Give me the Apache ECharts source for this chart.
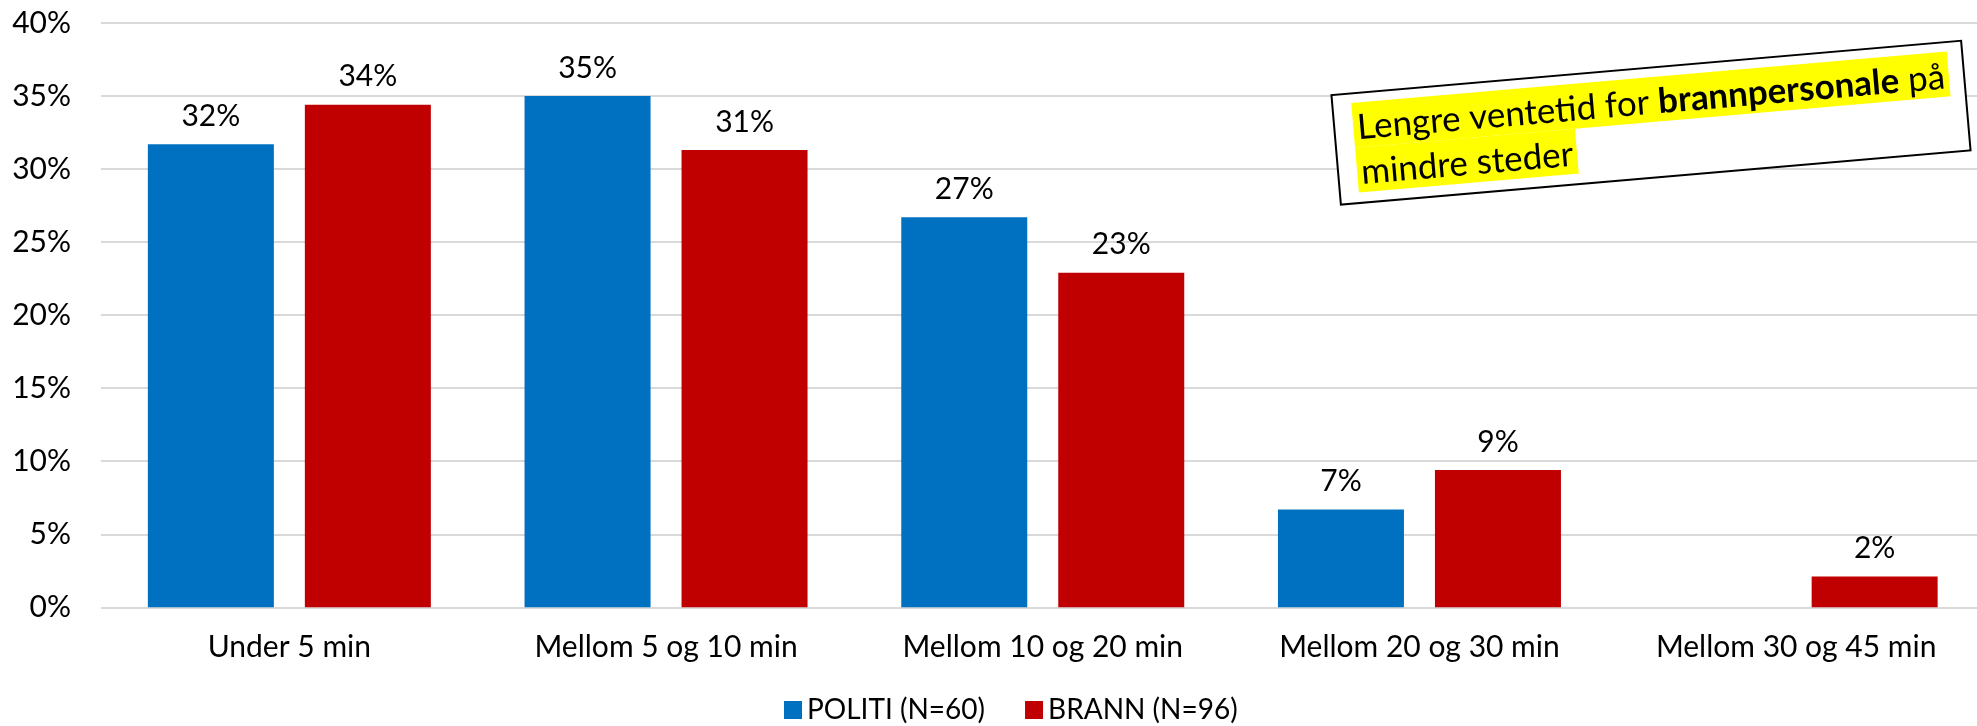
<!DOCTYPE html>
<html>
<head>
<meta charset="utf-8">
<script src="https://cdn.jsdelivr.net/npm/echarts@6/dist/echarts.min.js"></script>
<style>
html,body{margin:0;padding:0;background:#fff;}
#chart{width:1977px;height:726px;}
</style>
</head>
<body>
<div id="chart"></div>
<script>
const categories = ['Under 5 min', 'Mellom 5 og 10 min', 'Mellom 10 og 20 min', 'Mellom 20 og 30 min', 'Mellom 30 og 45 min'];
const politi = [31.7, 35.0, 26.7, 6.7, null];
const brann = [34.4, 31.3, 22.9, 9.4, 2.1];
const seriesNames = ['POLITI (N=60)', 'BRANN (N=96)'];
const yTicks = [0, 5, 10, 15, 20, 25, 30, 35, 40];
const noteLine1 = ['Lengre ventetid for ', 'brannpersonale', ' på'];
const noteLine2 = 'mindre steder';

const FONT = 'Lato';
const FS = 30;
const chart = echarts.init(document.getElementById('chart'), null, {renderer: 'canvas'});

const labelCfg = {
  show: true,
  position: 'top',
  distance: 13,
  fontFamily: FONT,
  fontSize: FS,
  color: '#000',
  formatter: p => (p.value == null ? '' : Math.round(p.value) + '%')
};

// annotation box geometry
const boxW = 632, boxH = 110;
const noteFS = 35, noteLH = 45, padL = 19, padT = 9.5;
const ctx = document.createElement('canvas').getContext('2d');
function tw(t, bold) { ctx.font = (bold ? 'bold ' : '') + noteFS + 'px ' + FONT; return ctx.measureText(t).width; }
const w1 = tw(noteLine1[0]) + tw(noteLine1[1], true) + tw(noteLine1[2]);
const w2 = tw(noteLine2);
const x0 = -boxW / 2 + padL, y0 = -boxH / 2 + padT;
const hiPad = 4;
const ZZ = 100;

chart.setOption({
  animation: false,
  backgroundColor: '#fff',
  textStyle: {fontFamily: FONT},
  grid: {left: 101, top: 23, width: 1883.5, height: 584.3, outerBoundsMode: 'none'},
  legend: {
    data: seriesNames,
    left: 779,
    top: 691,
    itemWidth: 18,
    itemHeight: 18,
    itemGap: 40,
    icon: 'rect',
    textStyle: {fontFamily: FONT, fontSize: 28, color: '#000'}
  },
  xAxis: {
    type: 'category',
    data: categories,
    axisLine: {show: false},
    axisTick: {show: false},
    axisLabel: {fontFamily: FONT, fontSize: FS, color: '#000', margin: 25, interval: 0}
  },
  yAxis: {
    type: 'value',
    min: yTicks[0],
    max: yTicks[yTicks.length - 1],
    interval: 5,
    axisLine: {show: false},
    axisTick: {show: false},
    splitLine: {lineStyle: {color: '#d9d9d9', width: 2}},
    axisLabel: {fontFamily: FONT, fontSize: FS, color: '#000', margin: 30, formatter: '{value}%'}
  },
  series: [
    {name: seriesNames[0], type: 'bar', data: politi, barWidth: 126, barGap: '24.6%',
     itemStyle: {color: '#0070C0'}, label: labelCfg},
    {name: seriesNames[1], type: 'bar', data: brann, barWidth: 126, barGap: '24.6%',
     itemStyle: {color: '#C00000'}, label: labelCfg}
  ],
  graphic: [{
    type: 'group',
    x: 1651,
    y: 122.7,
    rotation: 4.93 * Math.PI / 180,
    z: ZZ,
    children: [
      {type: 'rect', z: ZZ, shape: {x: -boxW / 2, y: -boxH / 2, width: boxW, height: boxH},
       style: {fill: '#fff', stroke: '#000', lineWidth: 2}},
      {type: 'rect', z: ZZ + 1, shape: {x: x0, y: y0, width: w1 + 2 * hiPad, height: noteLH},
       style: {fill: '#ffff00'}},
      {type: 'rect', z: ZZ + 1, shape: {x: x0, y: y0 + noteLH, width: w2 + 2 * hiPad, height: noteLH},
       style: {fill: '#ffff00'}},
      {type: 'text', z: ZZ + 2, x: x0 + hiPad, y: y0 + noteLH / 2 + 3,
       style: {
         text: '{n|' + noteLine1[0] + '}{b|' + noteLine1[1] + '}{n|' + noteLine1[2] + '}',
         verticalAlign: 'middle', align: 'left',
         rich: {
           n: {fontFamily: FONT, fontSize: noteFS, fill: '#000'},
           b: {fontFamily: FONT, fontSize: noteFS, fontWeight: 'bold', fill: '#000'}
         }
       }},
      {type: 'text', z: ZZ + 2, x: x0 + hiPad, y: y0 + noteLH * 1.5 + 3,
       style: {
         text: noteLine2, verticalAlign: 'middle', align: 'left',
         fontFamily: FONT, fontSize: noteFS, fill: '#000'
       }}
    ]
  }]
});
</script>
</body>
</html>
